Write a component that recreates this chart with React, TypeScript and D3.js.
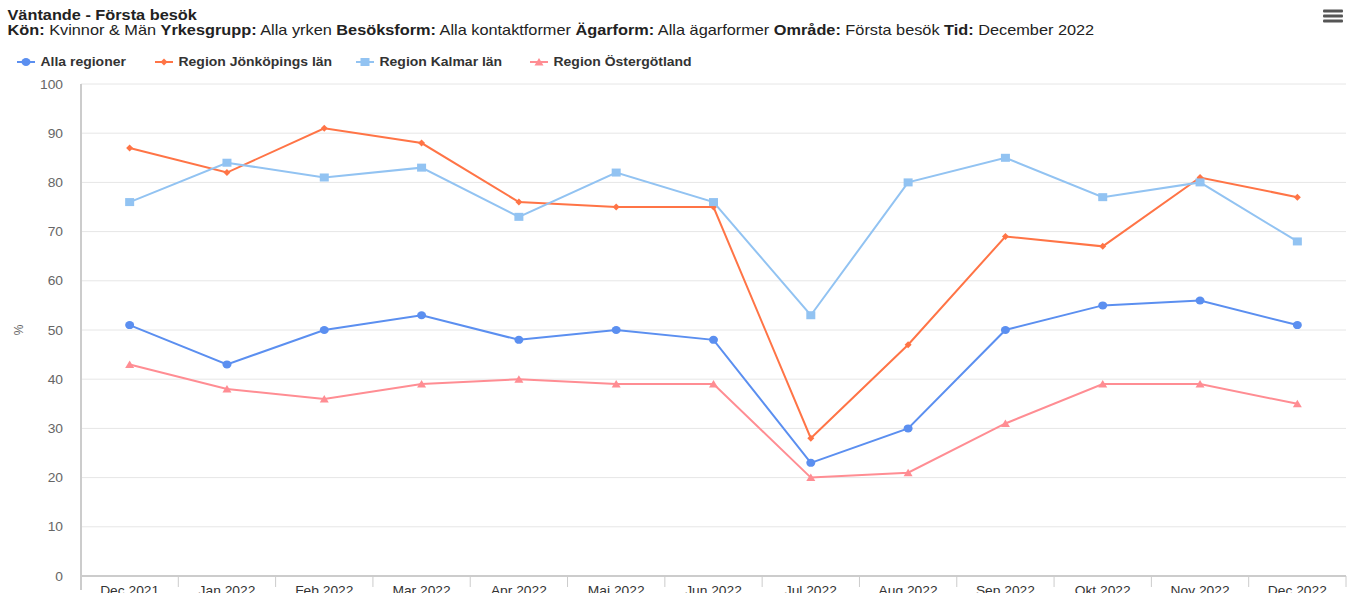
import React from "react";
import * as d3 from "d3";

const categories = ["Dec 2021","Jan 2022","Feb 2022","Mar 2022","Apr 2022","Maj 2022","Jun 2022","Jul 2022","Aug 2022","Sep 2022","Okt 2022","Nov 2022","Dec 2022"];
const allaRegioner = [51,43,50,53,48,50,48,23,30,50,55,56,51];
const jonkoping = [87,82,91,88,76,75,75,28,47,69,67,81,77];
const kalmar = [76,84,81,83,73,82,76,53,80,85,77,80,68];
const ostergotland = [43,38,36,39,40,39,39,20,21,31,39,39,35];
const yTicks = [0,10,20,30,40,50,60,70,80,90,100];

const series = [
  { name: "Alla regioner", values: allaRegioner, color: "#5b8ff0", marker: "circle" },
  { name: "Region Jönköpings län", values: jonkoping, color: "#ff7446", marker: "diamond" },
  { name: "Region Kalmar län", values: kalmar, color: "#92c3f2", marker: "square" },
  { name: "Region Östergötland", values: ostergotland, color: "#ff8d93", marker: "triangle" },
];

const W = 1349, H = 593;
const left = 81, right = 1346, top = 84, bottom = 576;
const SX = 1.165;

function Marker({ type, x, y, color }: { type: string; x: number; y: number; color: string }) {
  if (type === "circle") return <ellipse cx={x} cy={y} rx={4.5} ry={4} fill={color} />;
  if (type === "square") return <rect x={x - 4.5} y={y - 4} width={9} height={8} fill={color} />;
  if (type === "diamond") return <path d={`M${x},${y - 3.5}L${x + 3.5},${y}L${x},${y + 3.5}L${x - 3.5},${y}Z`} fill={color} />;
  return <path d={`M${x},${y - 4}L${x + 4.5},${y + 3.5}L${x - 4.5},${y + 3.5}Z`} fill={color} />;
}

// horizontally stretched text anchored at (x,y)
function SText({ x, y, sx, children, ...rest }: any) {
  return (
    <text x={0} y={0} transform={`translate(${x},${y}) scale(${sx},1)`} {...rest}>{children}</text>
  );
}

export default function App() {
  const x = d3.scaleBand().domain(categories).range([left, right]);
  const y = d3.scaleLinear().domain([0, 100]).range([bottom, top]);
  const cx = (c: string) => (x(c) as number) + x.bandwidth() / 2;
  const line = d3.line<number>().x((_, i) => cx(categories[i])).y((d) => y(d));
  const font = "Arial, 'Liberation Sans', sans-serif";
  const legendX = [17, 155, 356, 530];

  return (
    <svg width={W} height={H} style={{ position: "absolute", left: 0, top: 0, fontFamily: font }}>
      <rect width={W} height={H} fill="#fff" />
      <SText x={7.5} y={20} sx={SX} fontSize={14} fontWeight="bold" fill="#222">Väntande - Första besök</SText>
      <SText x={7.5} y={35} sx={SX} fontSize={14} fill="#222">
        <tspan fontWeight="bold">Kön:</tspan> Kvinnor &amp; Män <tspan fontWeight="bold">Yrkesgrupp:</tspan> Alla yrken <tspan fontWeight="bold">Besöksform:</tspan> Alla kontaktformer <tspan fontWeight="bold">Ägarform:</tspan> Alla ägarformer <tspan fontWeight="bold">Område:</tspan> Första besök <tspan fontWeight="bold">Tid:</tspan> December 2022
      </SText>
      {/* menu icon */}
      {[11, 16, 21].map((yy) => (
        <rect key={yy} x={1323} y={yy - 1.5} width={20} height={3} fill="#555" rx={1} />
      ))}
      {/* legend */}
      {series.map((s, i) => (
        <g key={s.name}>
          <line x1={legendX[i]} x2={legendX[i] + 18} y1={62} y2={62} stroke={s.color} strokeWidth={2} />
          <Marker type={s.marker} x={legendX[i] + 9} y={62} color={s.color} />
          <SText x={legendX[i] + 23.5} y={66} sx={1.165} fontSize={12} fontWeight="bold" fill="#333">{s.name}</SText>
        </g>
      ))}
      {/* grid */}
      {yTicks.map((t) => (
        <g key={t}>
          {t > 0 && <line x1={left} x2={right} y1={y(t)} y2={y(t)} stroke="#e6e6e6" strokeWidth={1} />}
          <SText x={63} y={y(t) + 4.5} sx={1.15} fontSize={12} fill="#666" textAnchor="end">{t}</SText>
        </g>
      ))}
      <line x1={left} x2={left} y1={top} y2={590} stroke="#ccc" strokeWidth={2} />
      <line x1={left} x2={right} y1={bottom} y2={bottom} stroke="#ccc" strokeWidth={2} />
      {categories.map((c, i) => (
        <line key={"t" + i} x1={x(c) as number} x2={x(c) as number} y1={bottom} y2={587} stroke="#ccc" strokeWidth={1} />
      ))}
      <line x1={right} x2={right} y1={bottom} y2={587} stroke="#ccc" strokeWidth={1} />
      {categories.map((c) => (
        <SText key={c} x={cx(c)} y={595} sx={1.15} fontSize={12} fill="#333" textAnchor="middle">{c}</SText>
      ))}
      <text transform={`translate(23,330) rotate(-90)`} fontSize={12} fill="#666" textAnchor="middle">%</text>
      {/* series */}
      {series.map((s) => (
        <g key={s.name}>
          <path d={line(s.values) || ""} fill="none" stroke={s.color} strokeWidth={2} />
          {s.values.map((v, i) => (
            <Marker key={i} type={s.marker} x={cx(categories[i])} y={y(v)} color={s.color} />
          ))}
        </g>
      ))}
    </svg>
  );
}
